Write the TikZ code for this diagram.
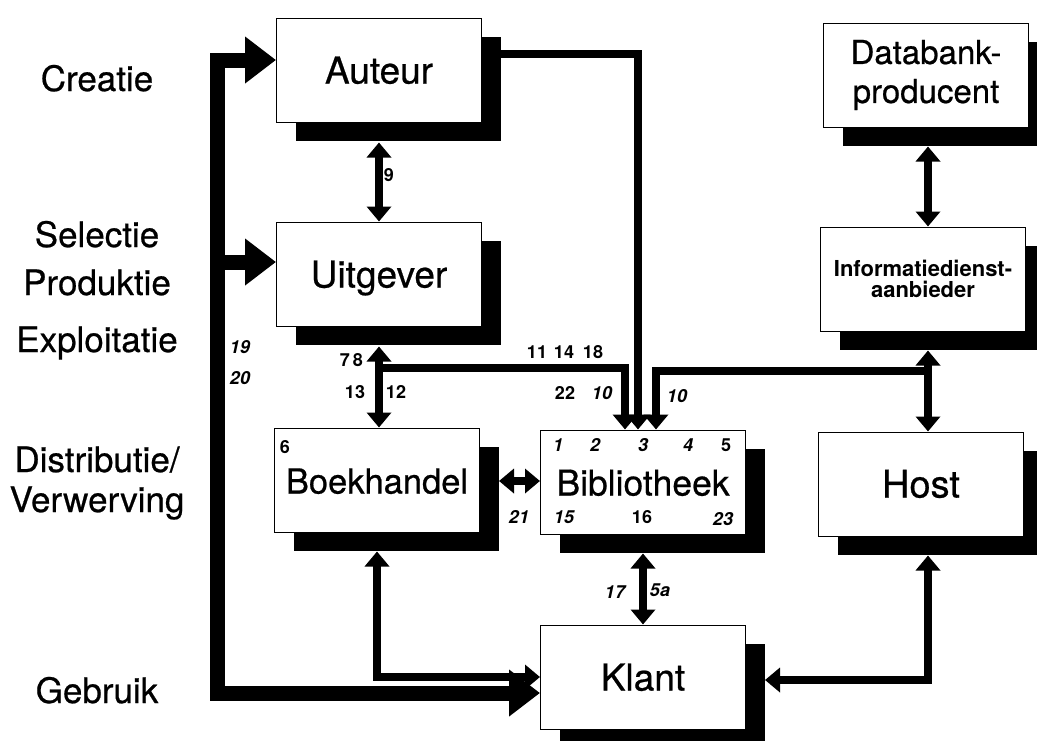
\documentclass[tikz,border=0pt]{standalone}
\usepackage{fontspec}
\setmainfont{TeX Gyre Heros}
\newfontfamily\heavyfont[FakeBold=0.6]{TeX Gyre Heros}
\usetikzlibrary{arrows.meta,shadows}
\tikzset{
  hd/.tip={Triangle[length=15pt,width=24pt]},
  bh/.tip={Triangle[length=31pt,width=45pt]},
  box/.style={draw=black,line width=1pt,fill=white,minimum width=205pt,minimum height=104pt,inner sep=0pt,
    drop shadow={shadow xshift=19pt,shadow yshift=-19pt,opacity=1,fill=black}},
  big/.style={font=\heavyfont\fontsize{37}{40}\selectfont,text height=27pt,text depth=0pt},
  conn/.style={line width=7.5pt},
  bus/.style={line width=15pt},
  num/.style={font=\fontsize{18}{18}\selectfont\bfseries,inner sep=0pt},
  numi/.style={font=\fontsize{18}{18}\selectfont\bfseries\itshape,inner sep=0pt},
  lab/.style={font=\heavyfont\fontsize{35}{35}\selectfont,anchor=base,inner sep=0pt}
}
\begin{document}
\begin{tikzpicture}[x=1pt,y=-1pt]
\clip (0,0) rectangle (1037,740);
\fill[white] (0,0) rectangle (1037,740);

% left labels
\node[lab] (l1) at (97,91) {Creatie};
\node[lab] (l2) at (97,247) {Selectie};
\node[lab] (l3) at (97,295) {Produktie};
\node[lab] (l4) at (97,352) {Exploitatie};
\node[lab] (l5) at (97,472) {Distributie/};
\node[lab] (l6) at (97,512) {Verwerving};
\node[lab] (l7) at (97,703) {Gebruik};

% boxes
\node[box,big] (auteur) at (379,70) {Auteur};
\node[box,big] (uitgever) at (379,274) {Uitgever};
\node[box,big,font=\heavyfont\fontsize{34.5}{40}\selectfont] (boek) at (377,480) {Boekhandel};
\node[box,big,font=\heavyfont\fontsize{35.5}{40}\selectfont] (bib) at (643,482) {Bibliotheek};
\node[box,big] (klant) at (643,677) {Klant};
\node[box,big,font=\heavyfont\fontsize{38}{40}\selectfont] (host) at (921,484) {Host};
\node[box,align=center,font=\heavyfont\fontsize{33}{39}\selectfont] (data) at (926,75) {Databank-\\producent};
\node[box,align=center,font=\fontsize{22}{21}\selectfont\bfseries] (info) at (923,279) {Informatiedienst-\\aanbieder};

% coordinates
\coordinate (bustop) at (217,60);
\coordinate (busmid) at (217,262);
\coordinate (busbot) at (217,693);
\coordinate (a2b) at (638,54);
\coordinate (j1) at (379,368);
\coordinate (b1) at (625,368);
\coordinate (rx) at (928,371);
\coordinate (b3) at (656,371);
\coordinate (hk) at (928,680);
\coordinate (bb) at (520,481);

% bus
\draw[bus,bh-bh] (auteur.west |- bustop) -- (bustop) -- (busbot) -- (klant.west |- busbot);
\draw[bus,-bh] (busmid) -- (uitgever.west |- busmid);

% connectors
\draw[conn,-hd] (auteur.east |- a2b) -- (a2b) -- (a2b |- bib.north);
\draw[conn,hd-hd] ([yshift=-20pt]auteur.south) -- (uitgever.north);
\draw[conn,hd-hd] ([yshift=-20pt]uitgever.south) -- (boek.north -| uitgever.south);
\draw[conn,-hd] (j1) -- (b1) -- (b1 |- bib.north);
\draw[conn,-hd] (rx) -- (b3) -- (b3 |- bib.north);
\draw[conn,hd-hd] ([yshift=-19pt]data.south -| rx) -- (info.north -| rx);
\draw[conn,hd-hd] ([yshift=-19pt]info.south -| rx) -- (host.north -| rx);
\draw[conn,hd-hd] ([yshift=-19pt]host.south -| rx) -- (hk) -- ([xshift=19pt]klant.east |- hk);
\draw[conn,hd-hd] ([xshift=19pt]boek.east |- bb) -- (bib.west |- bb);
\draw[conn,hd-hd] ([yshift=-19pt]bib.south) -- (klant.north);
\draw[conn,hd-hd] ([yshift=-19pt]boek.south) -- (boek.south |- klant.west) -- (klant.west);

% numbers
\node[num] (n9) at (389,175) {9};
\node[numi] (n19) at (240,347) {19};
\node[numi] (n20) at (240,378) {20};
\node[num] (n7) at (345,360) {7};
\node[num] (n8) at (358,360) {8};
\node[num] (n13) at (355,392) {13};
\node[num] (n12) at (396,392) {12};
\node[num] (n11) at (537,352) {11};
\node[num] (n14) at (564,352) {14};
\node[num] (n18) at (593,352) {18};
\node[num] (n22) at (565,393) {22};
\node[numi] (n10a) at (602,393) {10};
\node[numi] (n10b) at (677,396) {10};
\node[num] (n6) at (285,447) {6};
\node[numi] (n1) at (558,445) {1};
\node[numi] (n2) at (595,445) {2};
\node[numi] (n3) at (643,445) {3};
\node[numi] (n4) at (688,445) {4};
\node[num] (n5) at (726,445) {5};
\node[numi] (n15) at (564,517) {15};
\node[num] (n16) at (642,517) {16};
\node[numi] (n23) at (723,519) {23};
\node[numi] (n21) at (519,517) {21};
\node[numi] (n17) at (615,592) {17};
\node[numi] (n5a) at (660,590) {5a};
\end{tikzpicture}
\end{document}
